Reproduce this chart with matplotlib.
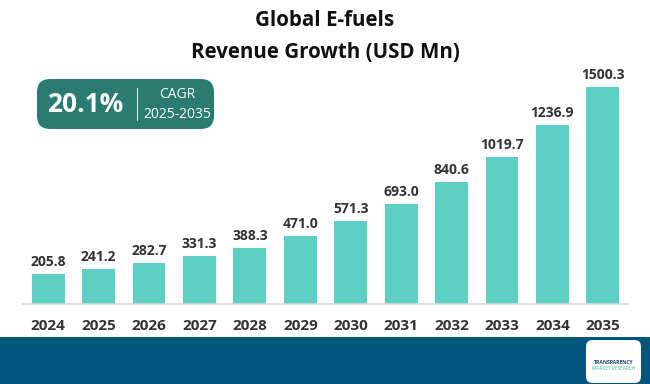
import matplotlib
matplotlib.use("Agg")
import matplotlib.pyplot as plt
from matplotlib.patches import FancyBboxPatch, Rectangle
import matplotlib.transforms as mtransforms

years = ["2024", "2025", "2026", "2027", "2028", "2029", "2030", "2031", "2032", "2033", "2034", "2035"]
values = [205.8, 241.2, 282.7, 331.3, 388.3, 471.0, 571.3, 693.0, 840.6, 1019.7, 1236.9, 1500.3]
title_lines = ["Global E-fuels", "Revenue Growth (USD Mn)"]
cagr_value = "20.1%"
cagr_label = "CAGR"
cagr_period = "2025-2035"

plt.rcParams['font.family'] = ['Open Sans', 'DejaVu Sans']

W, H = 650, 384
fig = plt.figure(figsize=(W / 100, H / 100), dpi=100)
fig.patch.set_facecolor("white")

def fx(px):
    return px / W

def fy(py):
    return 1 - py / H

# axes
ax_left, ax_right, ax_bottom, ax_top = 23, 628, 304, 60
ax = fig.add_axes([fx(ax_left), fy(ax_bottom), fx(ax_right - ax_left), (ax_bottom - ax_top) / H])
x = list(range(len(years)))
bars = ax.bar(x, values, width=0.65, color="#5dd0c3", zorder=2)
ax.set_xlim(-0.5, len(years) - 0.5)
ax.set_ylim(0, 1500.3 / 217 * (ax_bottom - ax_top))
ax.set_xticks(x)
ax.set_xticklabels(years, fontsize=11, fontweight="bold", color="#333333")
ax.tick_params(axis="x", length=0, pad=11)
ax.set_yticks([])
for s in ["top", "right", "left"]:
    ax.spines[s].set_visible(False)
ax.spines["bottom"].set_color("#d9d9d9")
ax.spines["bottom"].set_linewidth(1.2)
ax.set_facecolor("none")

offset = mtransforms.offset_copy(ax.transData, fig=fig, x=0, y=5, units="dots")
for xi, v in zip(x, values):
    ax.text(xi, v, f"{v:.1f}", ha="center", va="bottom", fontsize=10, fontweight="bold",
            color="#333333", transform=offset)

# title
fig.text(0.5, fy(20), title_lines[0], ha="center", va="center", fontsize=14.8, fontweight="bold", color="#111111")
fig.text(0.5, fy(52), title_lines[1], ha="center", va="center", fontsize=14.8, fontweight="bold", color="#111111")

# CAGR box
box = FancyBboxPatch((fx(37), fy(129)), fx(214 - 37), (129 - 79) / H,
                     boxstyle="round,pad=0,rounding_size=0.02", transform=fig.transFigure,
                     facecolor="#2a7b70", edgecolor="none", mutation_aspect=W / H)
fig.patches.append(box)
fig.text(fx(85), fy(104), cagr_value, ha="center", va="center", fontsize=19, fontweight="bold", color="white")
fig.lines.append(plt.Line2D([fx(137), fx(137)], [fy(88), fy(120)], transform=fig.transFigure,
                            color="#cfe5e1", linewidth=0.8))
fig.text(fx(177), fy(94), cagr_label, ha="center", va="center", fontsize=10, color="white")
fig.text(fx(177), fy(114), cagr_period, ha="center", va="center", fontsize=10, color="white")

# footer
footer = Rectangle((0, 0), 1, (H - 337) / H, transform=fig.transFigure, facecolor="#02567b", edgecolor="none")
fig.patches.append(footer)
logo = FancyBboxPatch((fx(586), fy(383)), fx(641 - 586), (383 - 340) / H,
                      boxstyle="round,pad=0,rounding_size=0.01", transform=fig.transFigure,
                      facecolor="white", edgecolor="none", mutation_aspect=W / H)
fig.patches.append(logo)
fig.text(fx(613.5), fy(362), "TRANSPARENCY", ha="center", va="center", fontsize=3.6, fontweight="bold", color="#1d3f6e")
fig.text(fx(613.5), fy(368), "MARKET RESEARCH", ha="center", va="center", fontsize=3.4, color="#49b8a8")

fig.savefig("out.png", dpi=100, facecolor="white")
